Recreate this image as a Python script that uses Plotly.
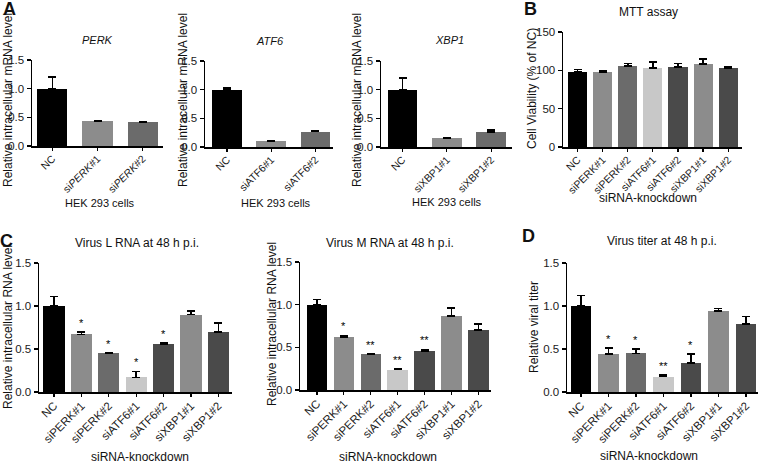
import plotly.graph_objects as go

W, H = 760, 464
FONT = "Liberation Sans, Arial, sans-serif"

# ---------------- data ----------------
perk_labels = ["NC", "si<i>PERK</i>#1", "si<i>PERK</i>#2"]
perk_vals = [1.00, 0.43, 0.41]
perk_err = [0.20, 0.01, 0.015]

atf6_labels = ["NC", "siATF6#1", "siATF6#2"]
atf6_vals = [1.00, 0.10, 0.27]
atf6_err = [0.025, 0.01, 0.01]

xbp1_labels = ["NC", "siXBP1#1", "siXBP1#2"]
xbp1_vals = [1.00, 0.16, 0.26]
xbp1_err = [0.20, 0.005, 0.04]

knock_labels = ["NC", "siPERK#1", "siPERK#2", "siATF6#1", "siATF6#2", "siXBP1#1", "siXBP1#2"]

mtt_vals = [98, 98, 106, 103, 104, 108, 103]
mtt_err = [3, 2, 3, 8, 5, 7, 1]

l_rna_vals = [1.00, 0.67, 0.45, 0.17, 0.56, 0.90, 0.70]
l_rna_err = [0.11, 0.03, 0.005, 0.07, 0.01, 0.04, 0.10]
l_rna_sig = ["", "*", "*", "*", "*", "", ""]

m_rna_vals = [1.00, 0.62, 0.42, 0.24, 0.46, 0.87, 0.70]
m_rna_err = [0.06, 0.02, 0.005, 0.005, 0.015, 0.09, 0.07]
m_rna_sig = ["", "*", "**", "**", "**", "", ""]

titer_vals = [1.00, 0.44, 0.45, 0.18, 0.34, 0.94, 0.79]
titer_err = [0.12, 0.07, 0.05, 0.015, 0.10, 0.03, 0.09]
titer_sig = ["", "*", "*", "**", "*", "", ""]

col3 = ["#000000", "#8c8c8c", "#6b6b6b"]
col7 = ["#000000", "#8c8c8c", "#6b6b6b", "#c8c8c8", "#4a4a4a", "#8c8c8c", "#4a4a4a"]

fig = go.Figure()
annotations = []


def px_x(p):
    return p / W


def px_y(p):
    return 1 - p / H


def panel(idx, labels, vals, err, colors, xdom, ydom, xrange, yrange, ytickvals,
          yfmt, bw, sig=None, xfs=11.5):
    xa = "x" if idx == 1 else f"x{idx}"
    ya = "y" if idx == 1 else f"y{idx}"
    cats = [f"c{i}" for i in range(len(labels))]
    fig.add_trace(go.Bar(
        x=cats, y=vals, width=bw, marker=dict(color=colors, line=dict(width=0)),
        error_y=dict(type="data", array=err, arrayminus=[0] * len(err), symmetric=False,
                     color="black", thickness=1.6, width=4),
        xaxis=xa, yaxis=ya, showlegend=False, hoverinfo="skip"))
    xk = "xaxis" if idx == 1 else f"xaxis{idx}"
    yk = "yaxis" if idx == 1 else f"yaxis{idx}"
    fig.layout[xk] = dict(
        domain=[px_x(xdom[0]), px_x(xdom[1])], anchor=ya, range=xrange,
        type="category", tickmode="array", tickvals=cats, ticktext=labels,
        tickangle=-45, showline=True, linecolor="black", linewidth=1.5,
        ticks="outside", ticklen=3, tickwidth=1.2, tickcolor="black",
        ticklabelstandoff=-2,
        showgrid=False, zeroline=False, automargin=False,
        tickfont=dict(family=FONT, size=xfs, color="#1a1a1a"))
    fig.layout[yk] = dict(
        domain=[px_y(ydom[1]), px_y(ydom[0])], anchor=xa, range=yrange,
        tickmode="array", tickvals=ytickvals, ticktext=[yfmt.format(v) for v in ytickvals],
        showline=True, linecolor="black", linewidth=1.5,
        ticks="outside", ticklen=4, tickwidth=1.2, tickcolor="black",
        showgrid=False, zeroline=False, automargin=False,
        tickfont=dict(family=FONT, size=11.5, color="#1a1a1a"))
    if sig:
        for c, v, e, s in zip(cats, vals, err, sig):
            if s:
                annotations.append(dict(
                    x=c, y=v + e, xref=xa, yref=ya, text=s, showarrow=False,
                    yanchor="bottom", yshift=1,
                    font=dict(family=FONT, size=11, color="#000")))


ticks15 = [0, 0.5, 1.0, 1.5]
panel(1, perk_labels, perk_vals, perk_err, col3, (32, 163), (60, 146),
      [-0.45, 2.45], [0, 1.5], ticks15, "{:.1f}", 0.67, xfs=10.5)
panel(2, atf6_labels, atf6_vals, atf6_err, col3, (205, 333), (61, 147),
      [-0.5, 2.4], [0, 1.5], ticks15, "{:.1f}", 0.67, xfs=10.5)
panel(3, xbp1_labels, xbp1_vals, xbp1_err, col3, (381, 512), (61, 147),
      [-0.485, 2.47], [0, 1.5], ticks15, "{:.1f}", 0.67, xfs=10.5)
panel(4, knock_labels, mtt_vals, mtt_err, col7, (563, 742), (32, 147),
      [-0.58, 6.55], [0, 150], [0, 50, 100, 150], "{:.0f}", 0.76, xfs=10.5)
panel(5, knock_labels, l_rna_vals, l_rna_err, col7, (39, 232), (263, 392),
      [-0.55, 6.5], [0, 1.5], ticks15, "{:.1f}", 0.78, l_rna_sig, xfs=11.5)
panel(6, knock_labels, m_rna_vals, m_rna_err, col7, (300, 491), (262, 390),
      [-0.63, 6.47], [0, 1.5], ticks15, "{:.1f}", 0.76, m_rna_sig, xfs=11.5)
panel(7, knock_labels, titer_vals, titer_err, col7, (567, 758), (263, 392),
      [-0.51, 6.44], [0, 1.5], ticks15, "{:.1f}", 0.75, titer_sig, xfs=11.5)


def text(x, y, s, size=12, angle=0, bold=False, italic=False):
    t = s
    if italic:
        t = f"<i>{t}</i>"
    if bold:
        t = f"<b>{t}</b>"
    annotations.append(dict(x=px_x(x), y=px_y(y), xref="paper", yref="paper",
                            text=t, showarrow=False, textangle=angle,
                            xanchor="center", yanchor="middle",
                            font=dict(family=FONT, size=size, color="#111")))


# panel letters
text(9, 9, "A", 18, bold=True)
text(530, 9, "B", 18, bold=True)
text(6, 241, "C", 18, bold=True)
text(528, 236, "D", 18, bold=True)

# panel titles
text(97, 40, "PERK", 11, italic=True)
text(270, 41, "ATF6", 11, italic=True)
text(450, 40, "XBP1", 11, italic=True)
text(648, 12, "MTT assay", 12)
text(137, 243, "Virus L RNA at 48 h p.i.", 12)
text(390, 243, "Virus M RNA at 48 h p.i.", 12)
text(662, 241, "Virus titer at 48 h p.i.", 12)

# y-axis titles
text(8, 100, "Relative intracellular mRNA level", 12, angle=-90)
text(183, 100, "Relative intracellular mRNA level", 12, angle=-90)
text(357, 100, "Relative intracellular mRNA level", 12, angle=-90)
text(532, 89, "Cell Viability (% of NC)", 12, angle=-90)
text(8, 327, "Relative intracellular RNA level", 12, angle=-90)
text(272, 324, "Relative intracellular RNA level", 12, angle=-90)
text(534, 327, "Relative viral titer", 12, angle=-90)

# x-axis titles
text(100, 203, "HEK 293 cells", 11)
text(276, 203, "HEK 293 cells", 11)
text(447, 202, "HEK 293 cells", 11)
text(648, 198, "siRNA-knockdown", 12)
text(140, 457, "siRNA-knockdown", 12)
text(388, 457, "siRNA-knockdown", 12)
text(649, 456, "siRNA-knockdown", 12)

fig.update_layout(
    width=W, height=H, margin=dict(l=0, r=0, t=0, b=0, pad=0, autoexpand=False),
    paper_bgcolor="white", plot_bgcolor="white",
    annotations=annotations, bargap=0,
    font=dict(family=FONT, color="#222"),
)

fig.write_html(
    "out.html",
    config={"displayModeBar": False, "staticPlot": True},
    post_script="document.body.style.margin='0px';document.body.style.overflow='hidden';",
)
